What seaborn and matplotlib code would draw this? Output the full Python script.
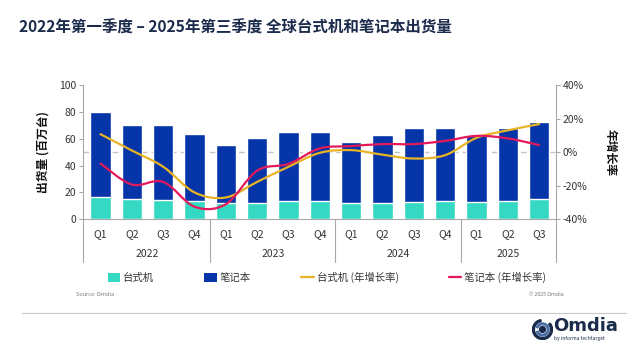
import numpy as np
import pandas as pd
import matplotlib
matplotlib.use("Agg")
import matplotlib.pyplot as plt
import matplotlib.transforms as mtransforms
from matplotlib.path import Path
from matplotlib.patches import PathPatch, Patch, Circle, Wedge
from matplotlib.lines import Line2D
import seaborn as sns

# ---- data ----
years = ["2022", "2023", "2024", "2025"]
quarters = ["Q1", "Q2", "Q3", "Q4", "Q1", "Q2", "Q3", "Q4", "Q1", "Q2", "Q3", "Q4", "Q1", "Q2", "Q3"]
periods = ["2022Q1", "2022Q2", "2022Q3", "2022Q4", "2023Q1", "2023Q2", "2023Q3", "2023Q4",
           "2024Q1", "2024Q2", "2024Q3", "2024Q4", "2025Q1", "2025Q2", "2025Q3"]
desktop = [16.4, 15.1, 14.4, 13.6, 11.9, 12.4, 13.4, 13.9, 11.9, 12.2, 12.7, 13.4, 12.9, 13.9, 14.9]
notebook = [63.6, 54.9, 55.8, 49.7, 43.2, 48.1, 51.8, 50.8, 45.6, 50.5, 55.0, 54.3, 49.6, 54.3, 57.5]
desktop_yoy = [10.7, 1.0, -8.7, -24.0, -27.0, -17.7, -8.7, -0.4, 1.2, -1.5, -3.8, -1.8, 8.5, 13.0, 16.7]
notebook_yoy = [-6.8, -19.3, -17.7, -32.5, -31.0, -11.0, -7.0, 2.2, 3.6, 4.8, 4.8, 6.7, 9.7, 8.2, 4.2]
left_ticks = [0, 20, 40, 60, 80, 100]
right_ticks = [-40, -20, 0, 20, 40]
legend_labels = ["台式机", "笔记本", "台式机 (年增长率)", "笔记本 (年增长率)"]
title = "2022年第一季度 – 2025年第三季度 全球台式机和笔记本出货量"

C_TEAL = "#35d8c3"
C_NAVY = "#0535a8"
C_GOLD = "#e8b325"
C_RED = "#e3195a"
C_TITLE = "#1b2b4b"
C_GREY = "#a8a8a8"
C_TXT = "#333333"

sns.set_style("white")
plt.rcParams["font.family"] = ["Noto Sans CJK SC", "DejaVu Sans"]
plt.rcParams["axes.unicode_minus"] = False

df = pd.DataFrame({"period": periods, "desktop": desktop, "notebook": notebook})
df["total"] = df["desktop"] + df["notebook"]

W, H = 634, 350
fig = plt.figure(figsize=(W / 100, H / 100), dpi=100)
ax_left, ax_right, ax_top, ax_bot = 83, 555.7, 85, 219.3
ax = fig.add_axes([ax_left / W, 1 - ax_bot / H, (ax_right - ax_left) / W, (ax_bot - ax_top) / H])

sns.barplot(data=df, x="period", y="total", order=periods, color=C_NAVY, width=0.65,
            saturation=1, ax=ax, zorder=2)
sns.barplot(data=df, x="period", y="desktop", order=periods, color=C_TEAL, width=0.65,
            saturation=1, ax=ax, zorder=3)
ax.axhline(50, color="#c4c4c4", lw=1.0, ls=(0, (4, 3)), zorder=1)

n = len(periods)
xlo, xhi = -0.56, n - 1 + 0.53
ax.set_xlim(xlo, xhi)
ax.set_ylim(0, 100)
ax.set_yticks(left_ticks)
ax.set_yticklabels([str(t) for t in left_ticks], fontsize=7.5, color=C_TXT)
ax.set_xticks(range(n))
ax.set_xticklabels(quarters, fontsize=7.5, color=C_TXT)
ax.tick_params(axis="x", length=0, pad=7)
ax.tick_params(axis="y", length=3, width=0.8, color=C_GREY, pad=2, left=True)
ax.set_xlabel("")
ax.set_ylabel("出货量 (百万台)", fontsize=8.5, fontweight="bold", color="#111111", labelpad=7)
for s in ["top", "right"]:
    ax.spines[s].set_visible(False)
for s in ["left", "bottom"]:
    ax.spines[s].set_color(C_GREY)
    ax.spines[s].set_linewidth(0.8)

# group separators & year labels
trans = mtransforms.blended_transform_factory(ax.transData, ax.transAxes)
ext = -(262 - ax_bot) / (ax_bot - ax_top)
for xv in [xlo, 3.5, 7.5, 11.5, xhi]:
    ax.plot([xv, xv], [0, ext], transform=trans, color=C_GREY, lw=0.8, clip_on=False)
year_y = -(254 - ax_bot) / (ax_bot - ax_top)
for yr, cx in zip(years, [1.5, 5.5, 9.5, 13.0]):
    ax.text(cx, year_y, yr, transform=trans, ha="center", va="center", fontsize=7.5, color=C_TXT)

# secondary axis
ax2 = ax.twinx()
ax2.set_ylim(-40, 40)
ax2.set_yticks(right_ticks)
ax2.set_yticklabels([f"{t}%" for t in right_ticks], fontsize=7.5, color=C_TXT)
ax2.tick_params(axis="y", length=3, width=0.8, color=C_GREY, pad=2, right=True)
for s in ["top", "left", "bottom"]:
    ax2.spines[s].set_visible(False)
ax2.spines["right"].set_color(C_GREY)
ax2.spines["right"].set_linewidth(0.8)
ax2.set_ylabel("年增长率", fontsize=8.5, fontweight="bold", color="#111111", rotation=270,
               labelpad=21)


def smooth_path(xs, ys):
    pts = np.column_stack([xs, ys]).astype(float)
    m = len(pts)
    verts = [pts[0]]
    codes = [Path.MOVETO]
    for i in range(m - 1):
        p0 = pts[i - 1] if i > 0 else pts[i]
        p1, p2 = pts[i], pts[i + 1]
        p3 = pts[i + 2] if i + 2 < m else pts[i + 1]
        verts += [p1 + (p2 - p0) / 6, p2 - (p3 - p1) / 6, p2]
        codes += [Path.CURVE4] * 3
    return Path(verts, codes)


xs = np.arange(n)
for vals, col in [(desktop_yoy, C_GOLD), (notebook_yoy, C_RED)]:
    ax2.add_patch(PathPatch(smooth_path(xs, vals), fill=False, edgecolor=col, lw=1.6,
                            capstyle="round", zorder=4))

# legend
handles = [Patch(facecolor=C_TEAL, edgecolor="none"), Patch(facecolor=C_NAVY, edgecolor="none"),
           Line2D([], [], color=C_GOLD, lw=1.6), Line2D([], [], color=C_RED, lw=1.6)]
fig.legend(handles, legend_labels, loc="center", bbox_to_anchor=(327 / W, 1 - 277.7 / H),
           ncol=4, frameon=False, fontsize=7.5, handlelength=1.2, handleheight=0.9,
           handletextpad=0.3, columnspacing=4.8, labelcolor=C_TXT)

# title and footer
fig.text(19 / W, 1 - 27.5 / H, title, ha="left", va="center", fontsize=11.2,
         fontweight="bold", color=C_TITLE)
fig.text(76 / W, 1 - 295 / H, "Source: Omdia", ha="left", va="center", fontsize=4, color="#777777")
fig.text(529 / W, 1 - 295 / H, "© 2025 Omdia", ha="left", va="center", fontsize=3.8, color="#777777")
fig.add_artist(Line2D([22 / W, 626 / W], [1 - 313 / H, 1 - 313 / H], color="#c8c8c8", lw=0.8))

# logo
fig.text(553 / W, 1 - 326 / H, "Omdia", ha="left", va="center", fontsize=13,
         fontweight="bold", color=C_TITLE, family=["DejaVu Sans"])
fig.text(554 / W, 1 - 338.5 / H, "by informa techtarget", ha="left", va="center", fontsize=3.6,
         color=C_TITLE)
lax = fig.add_axes([532 / W, 1 - 340 / H, 21 / W, 21 / H])
lax.set_xlim(-1, 1)
lax.set_ylim(-1, 1)
lax.set_aspect("equal")
lax.axis("off")
lax.add_patch(Wedge((0, 0), 0.95, 100, 400, width=0.18, color=C_TITLE))
lax.add_patch(Wedge((0, 0), 0.62, 200, 520, width=0.16, color="#4a6fa5"))
lax.add_patch(Circle((0, 0), 0.28, color=C_TITLE))

fig.savefig("out.png", dpi=100)
